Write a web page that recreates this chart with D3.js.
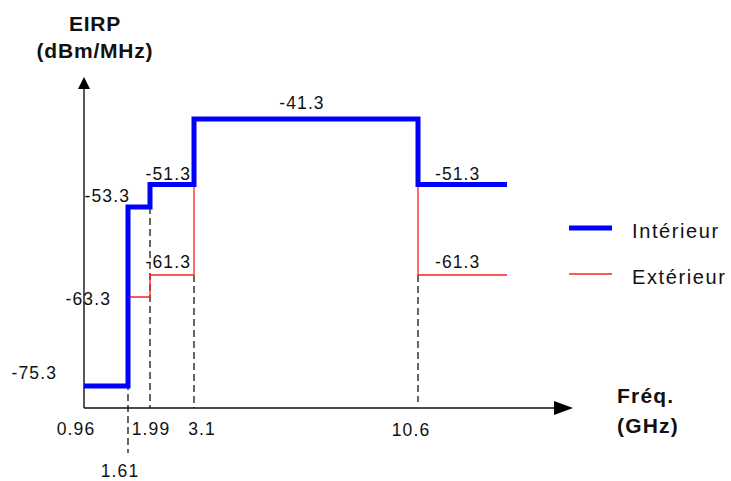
<!DOCTYPE html>
<html>
<head>
<meta charset="utf-8">
<script src="https://cdn.jsdelivr.net/npm/d3@7"></script>
<style>
  html, body { margin: 0; padding: 0; background: #fff; }
  svg { display: block; }
  text { font-family: "Liberation Sans", Arial, sans-serif; fill: #111; }
</style>
</head>
<body>
<div id="chart"></div>
<script>
// ---- data ----
const freqTicks = [0.96, 1.61, 1.99, 3.1, 10.6];
const freqEnd = 12;                      // right end of the plotted mask
const levels = [-75.3, -63.3, -61.3, -53.3, -51.3, -41.3];

const interieurFreq = [0.96, 1.61, 1.99, 3.1, 10.6, 12];
const interieurEIRP = [-75.3, -53.3, -51.3, -41.3, -51.3, -51.3];

const exterieurFreq = [0.96, 1.61, 1.99, 3.1, 10.6, 12];
const exterieurEIRP = [-75.3, -63.3, -61.3, -41.3, -61.3, -61.3];

const seriesNames = ["Intérieur", "Extérieur"];
const seriesColors = ["#0000ff", "#ff2020"];

// ---- layout ----
const W = 731, H = 481;
const svg = d3.select("#chart").append("svg").attr("width", W).attr("height", H);

// schematic (non-uniform) scales, piecewise linear
const x = d3.scaleLinear()
  .domain([...freqTicks, freqEnd])
  .range([84, 128, 150, 194, 418, 507]);
const y = d3.scaleLinear()
  .domain(levels)
  .range([386, 297, 275, 207, 184.5, 119]);

const axisY0 = 408, axisYTop = 77, axisXEnd = 573;
const x0 = x(freqTicks[0]);

// ---- dashed reference lines ----
const dashSpec = [
  {f: 1.61, top: -53.3, bottom: 453},
  {f: 1.99, top: -53.3, bottom: axisY0},
  {f: 3.1,  top: -61.3, bottom: axisY0},
  {f: 10.6, top: -61.3, bottom: axisY0 - 6}
];
svg.append("g").selectAll("line").data(dashSpec).join("line")
  .attr("x1", d => x(d.f)).attr("x2", d => x(d.f))
  .attr("y1", d => y(d.top)).attr("y2", d => d.bottom)
  .attr("stroke", "#000").attr("stroke-width", 1.2)
  .attr("stroke-dasharray", "7,4");

// ---- axes (arrows) ----
const ax = svg.append("g");
ax.append("line").attr("x1", x0).attr("x2", x0).attr("y1", axisY0).attr("y2", axisYTop + 10)
  .attr("stroke", "#111").attr("stroke-width", 1.4);
ax.append("path")
  .attr("d", `M${x0},${axisYTop} L${x0 - 6},${axisYTop + 12} L${x0 + 6},${axisYTop + 12} Z`)
  .attr("fill", "#000");
ax.append("line").attr("x1", x0).attr("x2", axisXEnd - 12).attr("y1", axisY0).attr("y2", axisY0)
  .attr("stroke", "#111").attr("stroke-width", 1.4);
ax.append("path")
  .attr("d", `M${axisXEnd},${axisY0} L${axisXEnd - 19},${axisY0 - 7} L${axisXEnd - 19},${axisY0 + 7} Z`)
  .attr("fill", "#000");

// ---- series ----
const line = d3.line().x(d => x(d[0])).y(d => y(d[1])).curve(d3.curveStepAfter);
const ext = exterieurFreq.map((f, i) => [f, exterieurEIRP[i]]);
const inte = interieurFreq.map((f, i) => [f, interieurEIRP[i]]);
svg.append("path").attr("d", line(ext)).attr("fill", "none")
  .attr("stroke", seriesColors[1]).attr("stroke-width", 1.3);
svg.append("path").attr("d", line(inte)).attr("fill", "none")
  .attr("stroke", seriesColors[0]).attr("stroke-width", 5)
  .attr("stroke-linejoin", "miter").attr("stroke-linecap", "butt");

// ---- value labels ----
const valFont = 17.5, valSpacing = 1.1;
const valueLabels = [
  {t: "-75.3", x: x(0.96) - 27, y: y(-75.3) - 7, a: "end"},
  {t: "-63.3", x: x(1.61) - 17, y: y(-63.3) + 8, a: "end"},
  {t: "-53.3", x: x(1.61) + 2,  y: y(-53.3) - 5, a: "end"},
  {t: "-51.3", x: x(3.1) - 3,   y: y(-51.3) - 5, a: "end"},
  {t: "-61.3", x: x(3.1) - 3,   y: y(-61.3) - 7, a: "end"},
  {t: "-41.3", x: (x(3.1) + x(10.6)) / 2 - 4, y: y(-41.3) - 10, a: "middle"},
  {t: "-51.3", x: x(10.6) + 17, y: y(-51.3) - 5, a: "start"},
  {t: "-61.3", x: x(10.6) + 17, y: y(-61.3) - 7, a: "start"}
];
svg.append("g").selectAll("text").data(valueLabels).join("text")
  .attr("x", d => d.x).attr("y", d => d.y).attr("text-anchor", d => d.a)
  .attr("font-size", valFont).attr("letter-spacing", valSpacing)
  .text(d => d.t);

// ---- frequency tick labels ----
const tickLabels = ["0.96", "1.61", "1.99", "3.1", "10.6"];
const tickDx = [-8, -8, 1, 8, -7];
const tickY = [435, 477, 435, 435, 436];
svg.append("g").selectAll("text").data(freqTicks).join("text")
  .attr("x", (d, i) => x(d) + tickDx[i]).attr("y", (d, i) => tickY[i])
  .attr("text-anchor", "middle")
  .attr("font-size", valFont).attr("letter-spacing", valSpacing)
  .text((d, i) => tickLabels[i]);

// ---- axis titles ----
const yTitle = svg.append("text").attr("text-anchor", "middle")
  .attr("font-size", 21).attr("font-weight", "bold").attr("letter-spacing", 0.8);
yTitle.append("tspan").attr("x", 95).attr("y", 31).text("EIRP");
yTitle.append("tspan").attr("x", 95).attr("y", 58).text("(dBm/MHz)");

const xTitle = svg.append("text").attr("text-anchor", "start")
  .attr("font-size", 21).attr("font-weight", "bold").attr("letter-spacing", 1.2);
xTitle.append("tspan").attr("x", 617).attr("y", 403).text("Fréq.");
xTitle.append("tspan").attr("x", 617).attr("y", 433).text("(GHz)");

// ---- legend ----
const legend = svg.append("g");
const legY = [228, 274];
const legW = [5, 1.3];
seriesNames.forEach((name, i) => {
  legend.append("line").attr("x1", 569).attr("x2", 612)
    .attr("y1", legY[i]).attr("y2", legY[i])
    .attr("stroke", seriesColors[i]).attr("stroke-width", legW[i]);
  legend.append("text").attr("x", 632).attr("y", legY[i] + 10)
    .attr("font-size", 20).attr("letter-spacing", 1.6)
    .text(name);
});
</script>
</body>
</html>
